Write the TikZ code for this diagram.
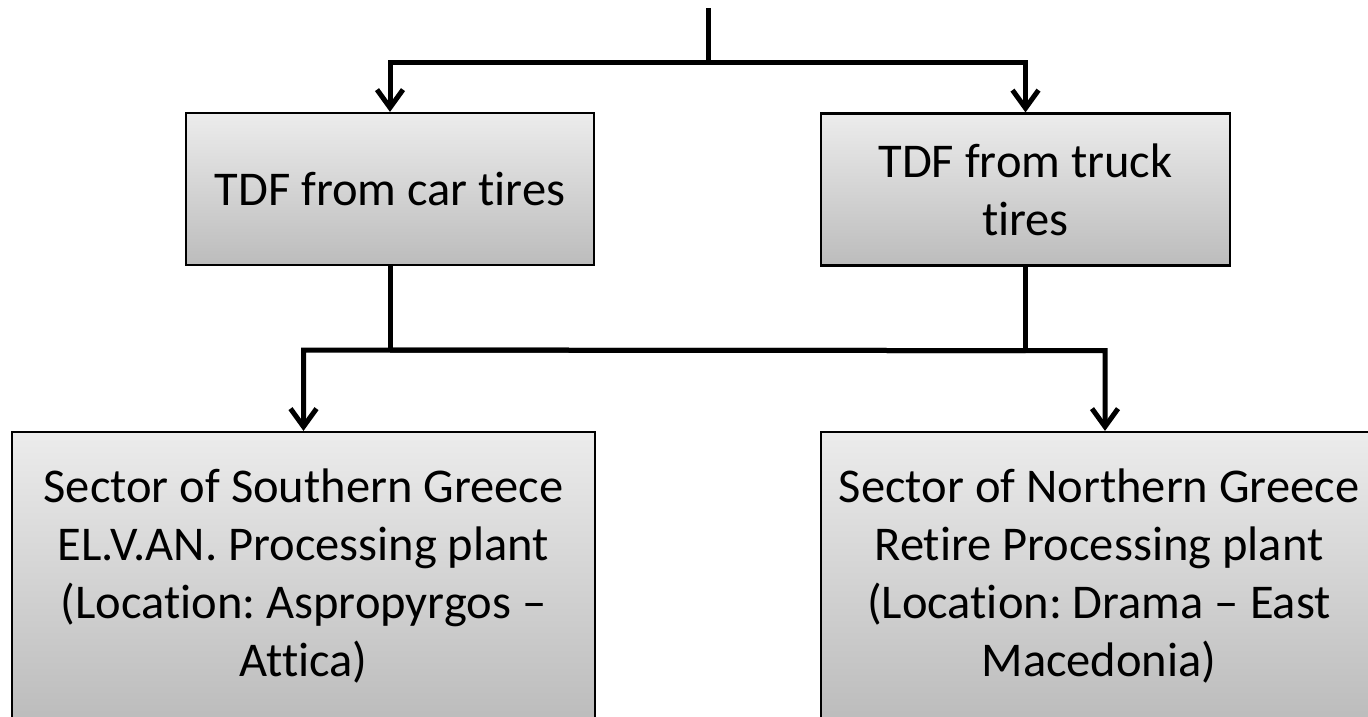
\documentclass[tikz,border=0pt]{standalone}
\usepackage{fontspec}
\setmainfont{Carlito}[Ligatures={NoCommon}]
\usetikzlibrary{arrows.meta}
\definecolor{topg}{RGB}{236,236,236}
\definecolor{botg}{RGB}{188,188,188}
\frenchspacing
\tikzset{
  txt/.style={inner sep=0pt, align=center, font=\fontsize{48.5}{58}\selectfont\frenchspacing},
  box/.style={txt, draw=black, line width=2.2pt, top color=topg, bottom color=botg, rectangle},
  conn/.style={line width=5pt, draw=black},
  arr/.style={conn, -{Straight Barb[length=18pt,width=26pt]}}
}
\begin{document}
\begin{tikzpicture}[x=1pt,y=-1pt]
\useasboundingbox (0,0) rectangle (1368,716);
\clip (0,0) rectangle (1368,716);
\node[box, minimum width=408pt, minimum height=152pt] (b1) at (390,189) {TDF from car tires};
\node[box, minimum width=409pt, minimum height=152pt] (b2) at (1025.5,189.5) {TDF from truck\\tires};
\node[box, minimum width=583pt, minimum height=288pt] (b3) at (303.5,576) {Sector of Southern Greece\\EL.V.AN. Processing plant\\(Location: Aspropyrgos --\\Attica)};
\node[box, minimum width=568pt, minimum height=288pt] (b4) at (1105,576) {};
\node[txt] (t4) at ([xshift=-6pt]b4.center) {Sector of Northern Greece\\Retire Processing plant\\(Location: Drama -- East\\Macedonia)};
\coordinate (top) at (708,8);
\coordinate (j1) at (708,62);
\draw[conn] (top) -- (j1);
\draw[arr] (j1) -| (b1.north);
\draw[arr] (j1) -| (b2.north);
\draw[conn] (b1.south) -- ++(0,84) coordinate (j2);
\draw[conn] (b2.south) -- ++(0,84) coordinate (j3);
\draw[arr] (j3) -- (j2) -| (b3.north);
\draw[arr] (j2) -- (j3) -| (b4.north);
\end{tikzpicture}
\end{document}
